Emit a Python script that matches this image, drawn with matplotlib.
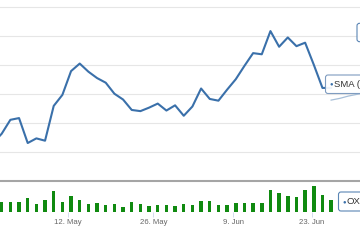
"""Price line with volume columns, cropped stock-chart view (May-June)."""

from __future__ import annotations

import matplotlib

matplotlib.use("Agg")
import matplotlib.pyplot as plt
from matplotlib.patches import FancyBboxPatch
import numpy as np

# closing price per trading day (first value sits just left of the view)
price = [
    131.6, 133.2, 135.6, 135.9, 131.6, 132.4, 132.0, 138.0, 139.9, 144.0,
    145.3, 143.9, 142.8, 142.0, 140.1, 139.1, 137.3, 137.1, 137.7, 138.4,
    137.2, 138.1, 136.3, 137.9, 141.0, 139.2, 138.9, 140.8, 142.6, 144.9,
    147.1, 146.9, 150.9, 148.2, 149.8, 148.3, 148.9, 145.1, 141.1, 141.1,
]
# volume in millions, same days
volume = [
    20, 20, 20, 20, 29, 17, 24, 43, 21, 33,
    25, 16, 19, 15, 16, 11, 20, 16, 12, 14,
    14, 12, 16, 14, 23, 22, 14, 14, 19, 18,
    18, 18, 45, 38, 33, 30, 45, 53, 35, 24,
]
# moving average, only its tail shows at the right edge
sma_index = [39, 40, 41, 42, 43]
sma = [139.0, 139.3, 139.7, 140.0, 140.3]

tick_pos = [8.6, 18.5, 27.7, 36.75]
tick_labels = ["12. May", "26. May", "9. Jun", "23. Jun"]
price_grid = [125, 130, 135, 140, 145, 150, 155]

W, H = 360, 240
LINE = "#3a70aa"
GREEN = "#108a10"
FONT = ["Liberation Sans", "DejaVu Sans"]


def px(x0: float, y0: float, x1: float, y1: float) -> list[float]:
    # pixel box (top-left origin) -> figure fraction rect
    return [x0 / W, 1 - y1 / H, (x1 - x0) / W, (y1 - y0) / H]


def tooltip(ax, x0, y0, x1, y1, label, edge):
    box = FancyBboxPatch((x0, y0), x1 - x0, y1 - y0, boxstyle="round,pad=0,rounding_size=2.5",
                         fc=(1, 1, 1, 0.92), ec=edge, lw=0.8, zorder=5)
    ax.add_patch(box)
    if label:
        yc = (y0 + y1) / 2
        ax.text(x0 + 5.5, yc, "●", color=LINE, fontsize=4.2, va="center", ha="center", zorder=6, family=FONT)
        ax.text(x0 + 8.3, yc + 0.3, label, color="#333333", fontsize=6.8, va="center", ha="left", zorder=6, family=FONT)


def main() -> None:
    plt.rcParams["font.family"] = FONT
    idx = np.arange(len(price))
    xlim = (0.804, 42.33)

    fig = plt.figure(figsize=(W / 100, H / 100), dpi=100)
    fig.patch.set_facecolor("white")

    ax = fig.add_axes(px(0, 0, W, 181.3))
    ax.plot(idx, price, color=LINE, lw=1.5, solid_joinstyle="round", zorder=3)
    ax.plot(sma_index, sma, color="#a7bfd8", lw=0.9, zorder=2)
    ax.set_xlim(*xlim)
    ax.set_ylim(125, 156.26)
    ax.set_yticks(price_grid)
    ax.grid(axis="y", color="#e6e6e6", lw=0.8)
    ax.set_xticks([])
    ax.tick_params(axis="y", length=0, labelleft=False)
    for side in ("top", "left", "right"):
        ax.spines[side].set_visible(False)
    ax.spines["bottom"].set_color("#a5a5a5")
    ax.spines["bottom"].set_linewidth(1.5)
    ax.set_facecolor("none")

    vax = fig.add_axes(px(0, 182, W, 212))
    vax.bar(idx, volume, width=0.4, color=GREEN, zorder=2)
    vax.set_xlim(*xlim)
    vax.set_ylim(0, 60)
    vax.set_yticks([])
    vax.set_xticks(tick_pos)
    vax.set_xticklabels(tick_labels, fontsize=5.6, color="#666666")
    vax.tick_params(axis="x", length=3.4, width=0.6, color="#ccd6eb", pad=1.8)
    for side in ("top", "left", "right", "bottom"):
        vax.spines[side].set_visible(False)
    vax.set_facecolor("none")

    # split-tooltip boxes that run off the right edge
    over = fig.add_axes([0, 0, 1, 1])
    over.set_xlim(0, W)
    over.set_ylim(H, 0)
    over.axis("off")
    over.set_facecolor("none")
    tooltip(over, 325.5, 75, 380, 93.5, "SMA (", "#7f9cc0")
    tooltip(over, 338.5, 192, 380, 211, "OX", "#5b86b5")
    tooltip(over, 357, 23.3, 390, 41.7, "", "#5b86b5")

    fig.savefig("out.png", dpi=100)


if __name__ == "__main__":
    main()
